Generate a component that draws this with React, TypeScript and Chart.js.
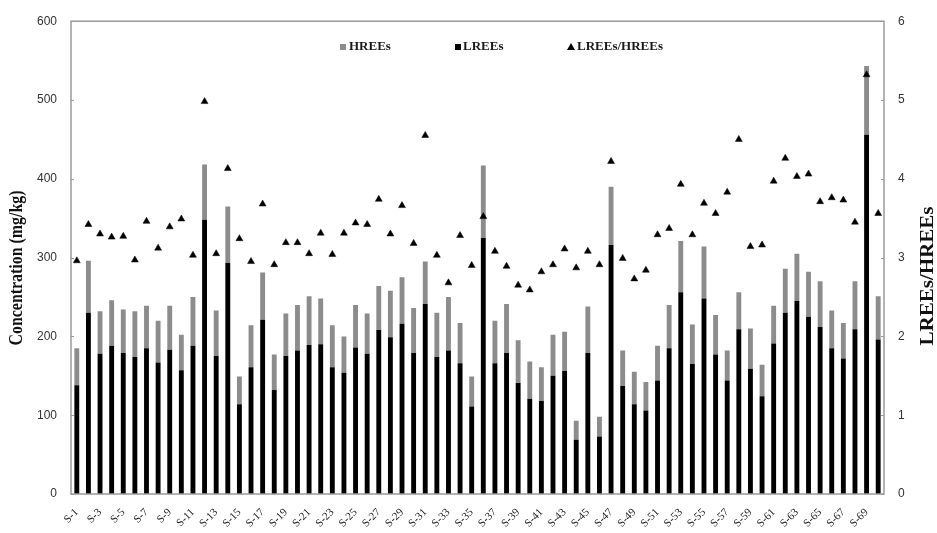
import React, { useEffect, useRef } from "react";
import { Chart, registerables } from "chart.js";

Chart.register(...registerables);

const categories: string[] = Array.from({ length: 70 }, (_, i) => `S-${i + 1}`);

const lrees: number[] = [
  138, 230, 178, 188, 179, 174, 185, 167, 183, 157,
  188, 348, 175, 293, 114, 161, 221, 132, 175, 182,
  189, 190, 161, 154, 186, 178, 208, 199, 216, 179,
  241, 174, 182, 166, 111, 325, 166, 179, 141, 121,
  118, 150, 156, 69, 179, 73, 316, 137, 114, 106,
  144, 185, 256, 165, 248, 177, 144, 209, 159, 124,
  191, 230, 245, 225, 212, 185, 172, 209, 456, 196,
];

const hrees: number[] = [
  47, 66, 54, 58, 55, 58, 54, 53, 56, 45,
  62, 70, 58, 72, 35, 53, 60, 45, 54, 58,
  62, 58, 53, 46, 54, 51, 56, 59, 59, 57,
  54, 56, 68, 51, 38, 92, 54, 62, 54, 47,
  43, 52, 50, 24, 59, 25, 74, 45, 41, 36,
  44, 55, 65, 50, 66, 50, 38, 47, 51, 40,
  48, 56, 60, 57, 58, 48, 45, 61, 87, 55,
];

const ratio: number[] = [
  2.96, 3.42, 3.30, 3.26, 3.27, 2.97, 3.46, 3.12, 3.39, 3.49,
  3.03, 4.98, 3.05, 4.13, 3.24, 2.95, 3.68, 2.91, 3.19, 3.19,
  3.05, 3.31, 3.04, 3.31, 3.44, 3.42, 3.74, 3.30, 3.66, 3.18,
  4.55, 3.03, 2.68, 3.28, 2.90, 3.52, 3.08, 2.89, 2.65, 2.59,
  2.82, 2.91, 3.11, 2.87, 3.08, 2.91, 4.22, 2.99, 2.73, 2.84,
  3.29, 3.37, 3.93, 3.29, 3.69, 3.56, 3.83, 4.50, 3.14, 3.16,
  3.97, 4.26, 4.03, 4.06, 3.71, 3.76, 3.73, 3.45, 5.32, 3.56,
];

const leftTicks: number[] = [0, 100, 200, 300, 400, 500, 600];
const rightTicks: number[] = [0, 1, 2, 3, 4, 5, 6];

const SERIF = "'Liberation Serif', 'DejaVu Serif', serif";
const SANS = "'Liberation Sans', Arial, sans-serif";

function drawFitText(
  ctx: CanvasRenderingContext2D,
  text: string,
  cx: number,
  cy: number,
  size: number,
  targetLen: number
) {
  ctx.save();
  ctx.font = `bold ${size}px ${SERIF}`;
  const w = ctx.measureText(text).width;
  const s = targetLen / w;
  ctx.translate(cx, cy);
  ctx.rotate(-Math.PI / 2);
  ctx.scale(s, 1);
  ctx.fillStyle = "#111";
  ctx.textAlign = "center";
  ctx.textBaseline = "middle";
  ctx.fillText(text, 0, 0);
  ctx.restore();
}

const decorPlugin = {
  id: "decor",
  afterDraw(chart: any) {
    const { ctx, chartArea } = chart;
    const { left, right, top, bottom } = chartArea;
    ctx.save();
    // box
    ctx.strokeStyle = "#9a9a9a";
    ctx.lineWidth = 1.5;
    ctx.strokeRect(left, top, right - left, bottom - top);
    // inward ticks
    ctx.lineWidth = 1;
    const yS = chart.scales.y;
    const y1S = chart.scales.y1;
    leftTicks.forEach((v) => {
      const py = Math.round(yS.getPixelForValue(v)) + 0.5;
      ctx.beginPath();
      ctx.moveTo(left, py);
      ctx.lineTo(left + 3, py);
      ctx.stroke();
    });
    rightTicks.forEach((v) => {
      const py = Math.round(y1S.getPixelForValue(v)) + 0.5;
      ctx.beginPath();
      ctx.moveTo(right - 3, py);
      ctx.lineTo(right, py);
      ctx.stroke();
    });
    // legend
    ctx.font = `bold 13px ${SERIF}`;
    ctx.textBaseline = "middle";
    ctx.textAlign = "left";
    const ly = 47;
    ctx.fillStyle = "#8c8c8c";
    ctx.fillRect(340, ly - 3, 6, 6);
    ctx.fillStyle = "#1a1a1a";
    ctx.fillText("HREEs", 349, ly);
    ctx.fillStyle = "#000";
    ctx.fillRect(455, ly - 3, 6, 6);
    ctx.fillStyle = "#1a1a1a";
    ctx.fillText("LREEs", 463, ly);
    ctx.fillStyle = "#000";
    ctx.beginPath();
    ctx.moveTo(571, ly - 4);
    ctx.lineTo(575, ly + 3);
    ctx.lineTo(567, ly + 3);
    ctx.closePath();
    ctx.fill();
    ctx.fillStyle = "#1a1a1a";
    ctx.fillText("LREEs/HREEs", 577, ly);
    ctx.restore();
    // axis titles
    drawFitText(ctx, "Concentration (mg/kg)", 17, 268, 18, 155);
    drawFitText(ctx, "LREEs/HREEs", 928, 276, 19, 139);
  },
};

export default function App() {
  const ref = useRef<HTMLCanvasElement | null>(null);

  useEffect(() => {
    if (!ref.current) return;
    const chart = new Chart(ref.current, {
      type: "bar",
      data: {
        labels: categories,
        datasets: [
          {
            type: "bar",
            label: "LREEs",
            data: lrees,
            backgroundColor: "#000000",
            yAxisID: "y",
            stack: "s",
            order: 2,
            categoryPercentage: 1,
            barPercentage: 0.42,
          },
          {
            type: "bar",
            label: "HREEs",
            data: hrees,
            backgroundColor: "#8c8c8c",
            yAxisID: "y",
            stack: "s",
            order: 2,
            categoryPercentage: 1,
            barPercentage: 0.42,
          },
          {
            type: "line",
            label: "LREEs/HREEs",
            data: ratio,
            yAxisID: "y1",
            showLine: false,
            pointStyle: "triangle",
            pointRadius: 4,
            pointBackgroundColor: "#000",
            pointBorderColor: "#000",
            pointBorderWidth: 0.5,
            order: 1,
          } as any,
        ],
      },
      options: {
        responsive: false,
        animation: false,
        layout: { padding: { top: 19, left: 0, right: 0, bottom: 0 } },
        plugins: {
          legend: { display: false },
          tooltip: { enabled: false },
        },
        scales: {
          x: {
            stacked: true,
            offset: true,
            grid: { display: false },
            border: { display: false },
            ticks: {
              autoSkip: false,
              maxRotation: 45,
              minRotation: 45,
              padding: 4,
              color: "#222",
              font: { family: SERIF, size: 11 },
              callback: (_v: any, i: number) => (i % 2 === 0 ? categories[i] : ""),
            },
            afterFit: (s: any) => {
              s.height = 39;
            },
          },
          y: {
            stacked: true,
            position: "left",
            min: 0,
            max: 600,
            grid: { display: false, drawTicks: false },
            border: { display: false },
            ticks: {
              stepSize: 100,
              padding: 14,
              color: "#333",
              font: { family: SANS, size: 12 },
            },
            afterFit: (s: any) => {
              s.width = 71;
            },
          },
          y1: {
            position: "right",
            min: 0,
            max: 6,
            grid: { display: false, drawTicks: false },
            border: { display: false },
            ticks: {
              stepSize: 1,
              padding: 14,
              color: "#333",
              font: { family: SANS, size: 12 },
            },
            afterFit: (s: any) => {
              s.width = 53;
            },
          },
        },
      },
      plugins: [decorPlugin],
    });
    return () => chart.destroy();
  }, []);

  return (
    <div style={{ position: "fixed", left: 0, top: 0, width: 937, height: 533, background: "#fff" }}>
      <canvas ref={ref} width={937} height={533} style={{ display: "block" }} />
    </div>
  );
}
